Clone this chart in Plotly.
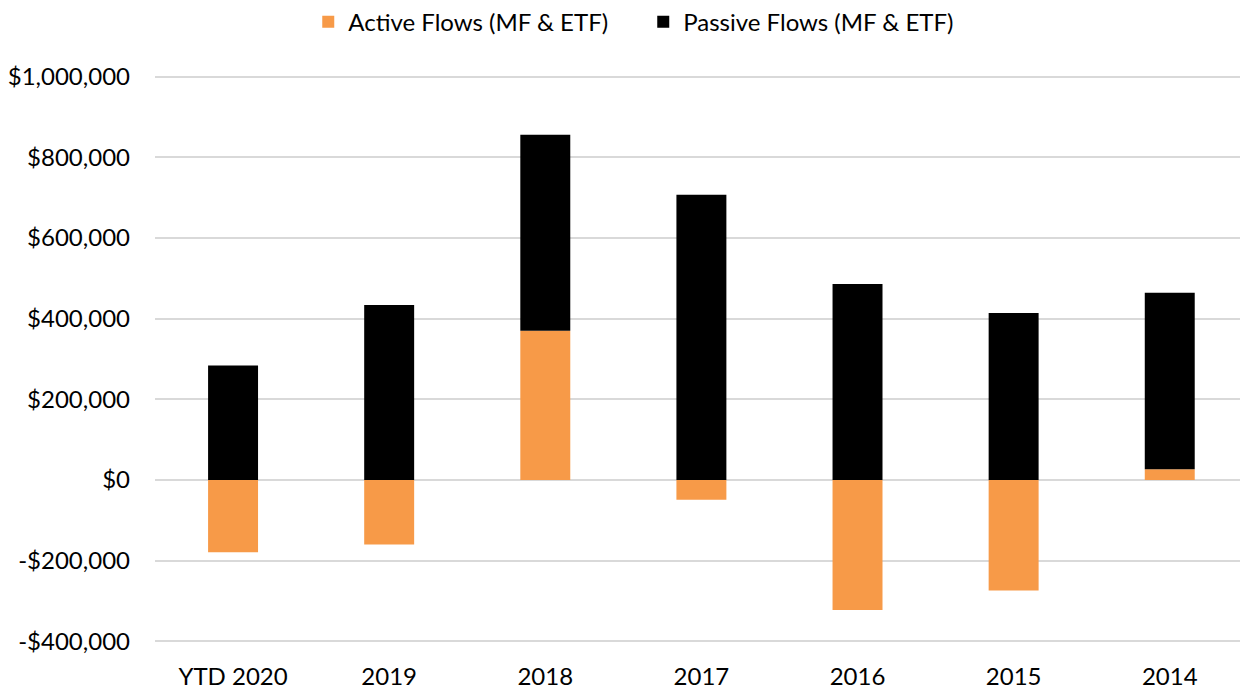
import plotly.graph_objects as go

categories = ["YTD 2020", "2019", "2018", "2017", "2016", "2015", "2014"]
active = [-179000, -160000, 370000, -49000, -322000, -274000, 27000]
passive = [284000, 434000, 486000, 707000, 486000, 414000, 437000]
tick_vals = [-400000, -200000, 0, 200000, 400000, 600000, 800000, 1000000]
tick_text = ["-$400,000", "-$200,000", "$0", "$200,000", "$400,000", "$600,000", "$800,000", "$1,000,000"]

fig = go.Figure()
fig.add_trace(go.Bar(x=categories, y=active, name="Active Flows (MF & ETF)",
                     marker=dict(color="#F79A48", line=dict(width=0))))
fig.add_trace(go.Bar(x=categories, y=passive, name="Passive Flows (MF & ETF)",
                     marker=dict(color="#000000", line=dict(width=0))))

font = "Lato, 'Open Sans', sans-serif"
fig.update_layout(
    width=1241, height=689,
    barmode="relative", bargap=0.68,
    paper_bgcolor="white", plot_bgcolor="white",
    margin=dict(l=155, r=1, t=75, b=46, autoexpand=False),
    font=dict(family=font, size=24, color="#000000"),
    legend=dict(orientation="h", x=0.45, xanchor="center", y=0.968, yanchor="middle",
                yref="container", font=dict(size=24), traceorder="normal",
                itemwidth=30, entrywidth=290, entrywidthmode="pixels"),
    showlegend=True,
    xaxis=dict(range=[-0.5, 6.45], showgrid=False, showline=False, ticks="",
               ticklabelstandoff=17, automargin=False),
    yaxis=dict(range=[-404000, 1004000], tickvals=tick_vals, ticktext=tick_text,
               showgrid=True, gridcolor="#D9D9D9", gridwidth=1.5,
               zeroline=True, zerolinecolor="#D9D9D9", zerolinewidth=1.5,
               showline=False, ticks="", ticklabelstandoff=24, automargin=False),
)
fig.write_html("out.html", config={"displayModeBar": False},
               post_script="document.body.style.margin='0';document.body.style.overflow='hidden';")
